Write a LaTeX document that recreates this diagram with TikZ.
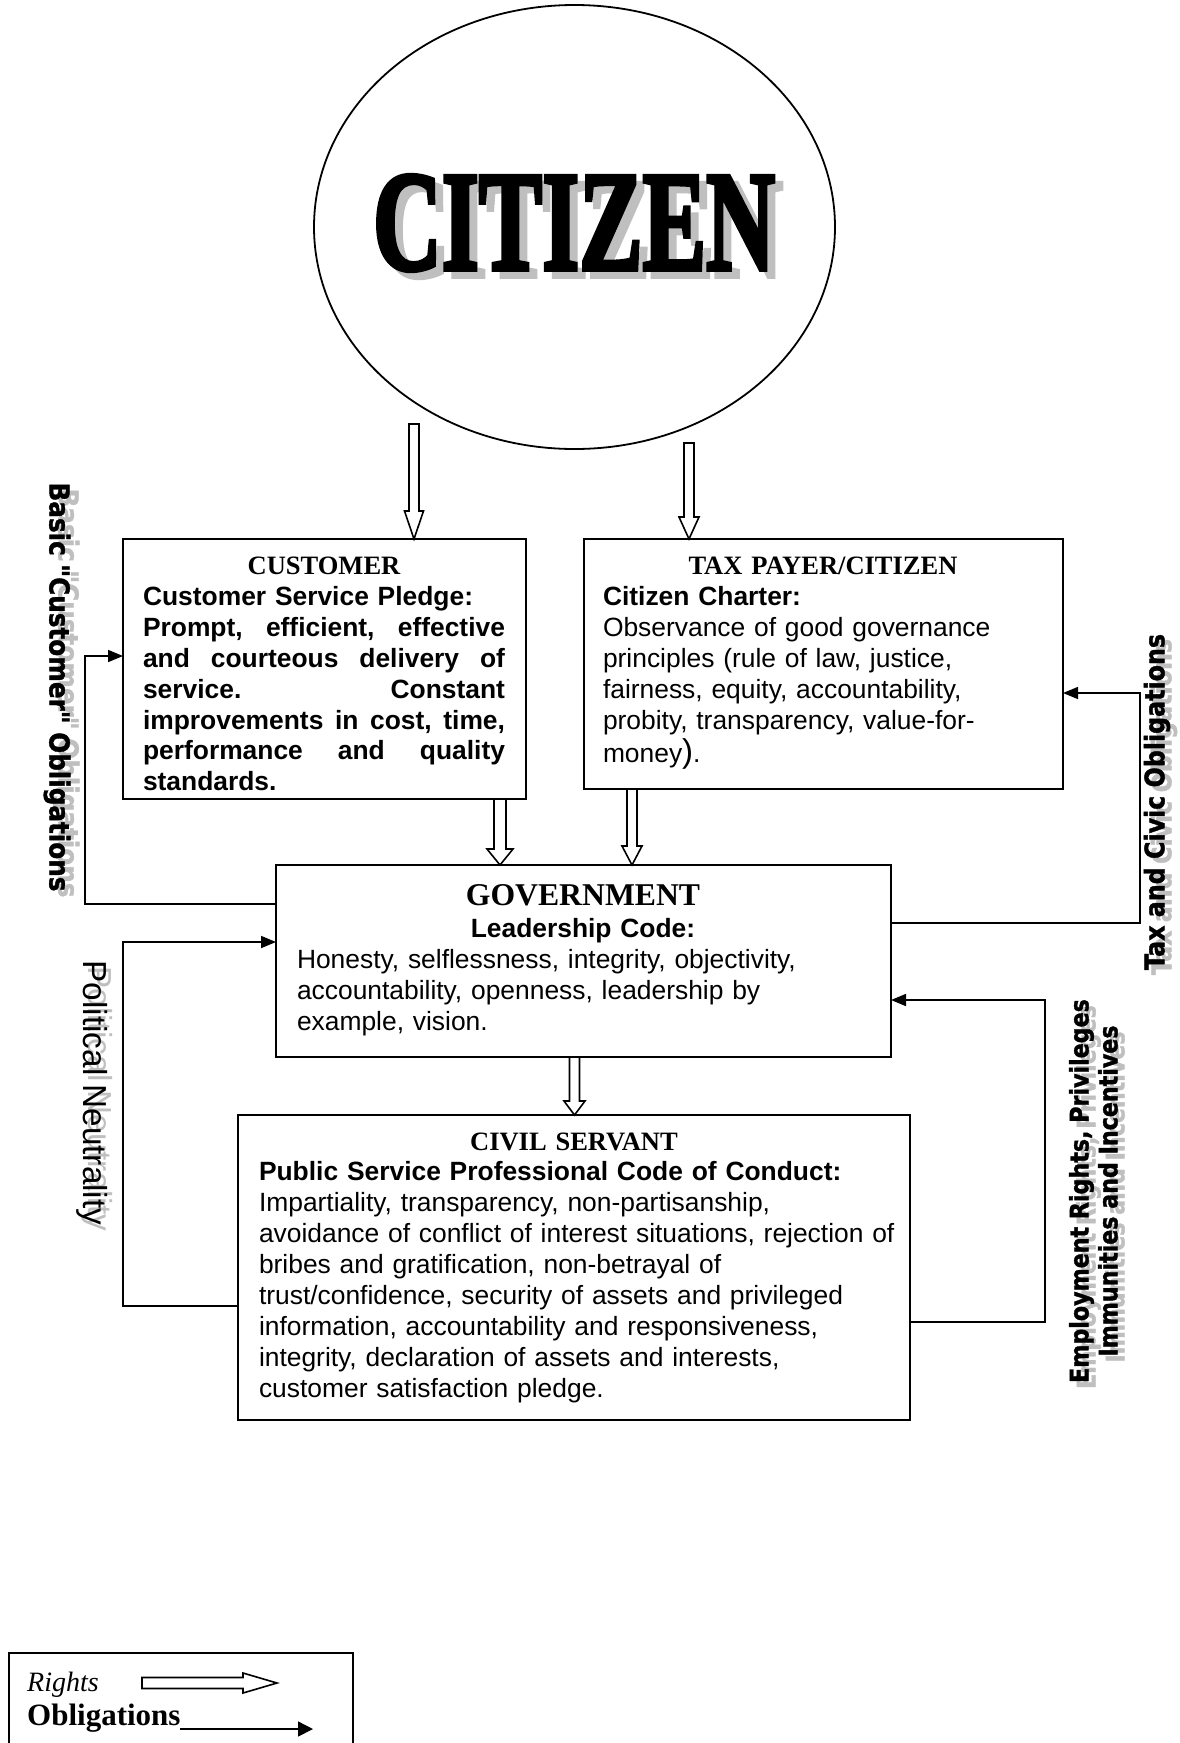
\documentclass[tikz,border=0pt]{standalone}
\usepackage{fontspec}
\setmainfont{Liberation Serif}
\setsansfont{Liberation Sans}
\font\lblBa="DejaVu Sans/B:embolden=1.5" at 27.4pt
\font\lblBb="DejaVu Sans/B:embolden=1.5" at 27pt
\font\lblBc="DejaVu Sans/B:embolden=1.5" at 25.5pt
\font\lblRa="Liberation Sans" at 33.3pt
\font\citF="Liberation Serif/B:embolden=3.5" at 142pt
\newcommand{\empfont}{\lblBc\baselineskip=34pt\relax}
\usetikzlibrary{shapes.geometric,arrows.meta,calc}
\definecolor{shade}{gray}{0.75}
\newcommand{\bodyfont}{\sffamily\fontsize{26.4}{30.9}\selectfont\parindent=0pt}
\newcommand{\headfont}{\rmfamily\bfseries\fontsize{26.5}{30.9}\selectfont}
\newcommand{\jl}[1]{\makebox[\hsize][s]{#1}}
\newcommand{\emptext}{\scalebox{0.87}[1]{\begin{tabular}{@{}c@{}}Employment Rights, Privileges\\[6pt]Immunities and Incentives\end{tabular}}}
\newcommand{\hollowdown}[5]{%
  \draw[rightsline] let \p1=(#1), \p2=(#2) in
    (\x1-#3pt,\y1) -- (\x1+#3pt,\y1) -- (\x1+#3pt,\y2+#5pt) -- (\x1+#4pt,\y2+#5pt)
    -- (\x1,\y2) -- (\x1-#4pt,\y2+#5pt) -- (\x1-#3pt,\y2+#5pt) -- cycle;}
\newcommand{\hollowright}[5]{%
  \draw[rightsline] let \p1=(#1), \p2=(#2) in
    (\x1,\y1+#3pt) -- (\x2-#5pt,\y1+#3pt) -- (\x2-#5pt,\y1+#4pt) -- (\x2,\y1)
    -- (\x2-#5pt,\y1-#4pt) -- (\x2-#5pt,\y1-#3pt) -- (\x1,\y1-#3pt) -- cycle;}
\begin{document}
\begin{tikzpicture}[x=1pt,y=-1pt,
  box/.style={draw,line width=2pt,rectangle,inner sep=0pt,outer sep=0pt,anchor=north west},
  boxtext/.style={inner sep=0pt,outer sep=0pt,anchor=north west,align=left,font=\bodyfont},
  oblig/.style={line width=1.6pt,-{Triangle[length=15pt,width=12pt]}},
  rightsline/.style={line width=1.6pt,fill=white,line join=miter},
  lbl/.style={inner sep=0pt,outer sep=0pt},
  citfont/.style={inner sep=0pt,outer sep=0pt,font=\citF}]
\useasboundingbox[fill=white] (0,0) rectangle (1179,1743);

% citizen ellipse
\node[ellipse,draw,line width=1.8pt,minimum width=521pt,minimum height=444pt,inner sep=0pt] (citizen) at (574.5,227) {};
\node[citfont,text=shade] (citsh) at (582,230) {\scalebox{0.67}[1]{CITIZEN}};
\node[citfont] (cittext) at (574,223) {\scalebox{0.67}[1]{CITIZEN}};

% boxes
\node[box,minimum width=403pt,minimum height=260pt] (customer) at (123,539) {};
\node[box,minimum width=479pt,minimum height=250pt] (tax) at (584,539) {};
\node[box,minimum width=615pt,minimum height=192pt] (gov) at (276,865) {};
\node[box,minimum width=672pt,minimum height=305pt] (civil) at (238,1115) {};

% box texts
\node[boxtext,text width=362pt] (custtxt) at ($(customer.north west)+(20,13.5)$) {%
{\centering\headfont\rule{0pt}{22pt}CUSTOMER\par}
\bfseries Customer Service Pledge:\par
\jl{Prompt,\hfill efficient,\hfill effective}\par
\jl{and\hfill courteous\hfill delivery\hfill of}\par
\jl{service.\hfill Constant}\par
\jl{improvements\hfill in\hfill cost,\hfill time,}\par
\jl{performance\hfill and\hfill quality}\par
standards.\par};

\node[boxtext,text width=440pt] (taxtxt) at ($(tax.north west)+(19,13.5)$) {%
{\centering\headfont\rule{0pt}{22pt}TAX PAYER/CITIZEN\par}
{\bfseries Citizen Charter:\par}
Observance of good governance\par
principles (rule of law, justice,\par
fairness, equity, accountability,\par
probity, transparency, value-for-\par
\vspace{3pt}money{\fontsize{33}{33}\selectfont)}.\par};

\node[boxtext,text width=572pt] (govtxt) at ($(gov.north west)+(21,14)$) {%
{\centering\rmfamily\bfseries\fontsize{31.7}{34}\selectfont\rule{0pt}{26pt}GOVERNMENT\par}\vspace{2pt}
{\centering\bfseries Leadership Code:\par}
Honesty, selflessness, integrity, objectivity,\par
accountability, openness, leadership by\par
example, vision.\par};

\node[boxtext,text width=650pt] (civtxt) at ($(civil.north west)+(21,13)$) {%
{\centering\headfont\rule{0pt}{22pt}\hspace*{-20pt}CIVIL SERVANT\par}
{\bfseries Public Service Professional Code of Conduct:\par}
Impartiality, transparency, non-partisanship,\par
avoidance of conflict of interest situations, rejection of\par
bribes and gratification, non-betrayal of\par
trust/confidence, security of assets and privileged\par
information, accountability and responsiveness,\par
integrity, declaration of assets and interests,\par
customer satisfaction pledge.\par};

% rights (hollow) arrows
\coordinate (a1) at (414,424);
\coordinate (a2) at (689,443);
\coordinate (a3) at (500,0);
\coordinate (a4) at (632,0);
\coordinate (a5) at (574.5,0);
\hollowdown{a1}{customer.north -| a1}{5}{9.5}{28}
\hollowdown{a2}{tax.north -| a2}{5}{10}{22}
\hollowdown{customer.south -| a3}{gov.north -| a3}{6}{13}{16}
\hollowdown{tax.south -| a4}{gov.north -| a4}{5}{10}{19}
\hollowdown{gov.south -| a5}{civil.north -| a5}{5}{10.5}{14}

% obligation connectors
\coordinate (k0) at (85,904);
\coordinate (k1) at (85,656);
\draw[oblig] (k0 -| gov.west) -- (k0) -- (k1) -- (k1 -| customer.west);
\coordinate (k2) at (123,1306);
\coordinate (k3) at (123,942);
\draw[oblig] (k2 -| civil.west) -- (k2) -- (k3) -- (k3 -| gov.west);
\coordinate (k4) at (1140,923);
\coordinate (k5) at (1140,693);
\draw[oblig] (k4 -| gov.east) -- (k4) -- (k5) -- (k5 -| tax.east);
\coordinate (k6) at (1045,1322);
\coordinate (k7) at (1045,1000);
\draw[oblig] (k6 -| civil.east) -- (k6) -- (k7) -- (k7 -| gov.east);

% side labels with shadows
\node[lbl,text=shade,rotate=-90,font=\lblBa] (bcosh) at (66,693) {\scalebox{0.9}[1]{Basic "Customer" Obligations}};
\node[lbl,rotate=-90,font=\lblBa] (bco) at (57,687) {\scalebox{0.9}[1]{Basic "Customer" Obligations}};
\node[lbl,text=shade,rotate=90,font=\lblBb] (tcosh) at (1164,807) {\scalebox{0.88}[1]{Tax and Civic Obligations}};
\node[lbl,rotate=90,font=\lblBb] (tco) at (1157,802) {\scalebox{0.88}[1]{Tax and Civic Obligations}};
\node[lbl,text=shade,rotate=90,font=\empfont] (empsh) at (1102,1197) {\emptext};
\node[lbl,rotate=90,font=\empfont] (emp) at (1095,1191) {\emptext};
\node[lbl,text=shade,rotate=-90,font=\lblRa] (pnsh) at (97.5,1099) {Political Neutrality};
\node[lbl,rotate=-90,font=\lblRa] (pn) at (92.5,1093) {Political Neutrality};

% legend
\draw[line width=1.6pt] (9,1760) -- (9,1653) -- (353,1653) -- (353,1760);
\node[anchor=base west,inner sep=0pt,font=\rmfamily\itshape\fontsize{28}{30}\selectfont] (rightslbl) at (27,1691) {Rights};
\coordinate (r1) at (142,1683);
\coordinate (r2) at (277,1683);
\hollowright{r1}{r2}{5.5}{10}{34}
\node[anchor=base west,inner sep=0pt,font=\rmfamily\bfseries\fontsize{31}{33}\selectfont] (obliglbl) at (27,1725) {Obligations};
\coordinate (o1) at (180,1729);
\coordinate (o2) at (313,1729);
\draw[line width=1.6pt,-{Triangle[length=15pt,width=15pt]}] (o1) -- (o2);
\end{tikzpicture}
\end{document}
